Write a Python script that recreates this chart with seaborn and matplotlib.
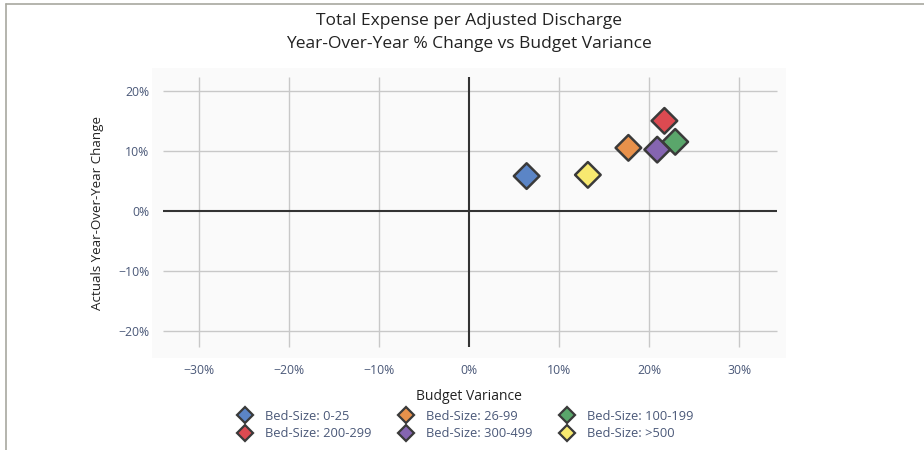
import numpy as np
import pandas as pd
import matplotlib
matplotlib.use("Agg")
import matplotlib.pyplot as plt
from matplotlib.lines import Line2D
from matplotlib.ticker import PercentFormatter
import seaborn as sns

# Data
categories = ["Bed-Size: 0-25", "Bed-Size: 26-99", "Bed-Size: 100-199",
              "Bed-Size: 200-299", "Bed-Size: 300-499", "Bed-Size: >500"]
budget_variance = [6.4, 17.7, 22.9, 21.7, 20.9, 13.2]
yoy_change = [5.8, 10.5, 11.5, 15.0, 10.2, 6.0]
colors = ["#5b85c6", "#e8914b", "#5aa66b", "#dc4a51", "#8565b1", "#f7e970"]
x_ticks = [-30, -20, -10, 0, 10, 20, 30]
y_ticks = [-20, -10, 0, 10, 20]

TICK_COLOR = "#4a5878"
EDGE = "#3a3a3a"

df = pd.DataFrame({"cat": categories, "x": budget_variance, "y": yoy_change})

sns.set_style("white")
plt.rcParams["font.family"] = ["Open Sans", "DejaVu Sans"]

fig = plt.figure(figsize=(9.24, 4.5), dpi=100)
ax = fig.add_axes([152 / 924, 1 - 358 / 450, 634 / 924, 290 / 450])
ax.set_facecolor("#fafafa")
for s in ax.spines.values():
    s.set_visible(False)

ax.set_xlim(-35.2, 35.2)
ax.set_ylim(-24.5, 23.8)

# grid lines (limited extent like the reference)
gx0, gx1 = -34.0, 34.2
gy0, gy1 = -22.7, 22.3
for t in x_ticks:
    if t != 0:
        ax.vlines(t, gy0, gy1, color="#c8c8c8", lw=1, zorder=1)
for t in y_ticks:
    if t != 0:
        ax.hlines(t, gx0, gx1, color="#c8c8c8", lw=1, zorder=1)
ax.hlines(0, gx0, gx1, color="#333333", lw=1.5, zorder=2)
ax.vlines(0, gy0, gy1, color="#333333", lw=1.5, zorder=2)

sns.scatterplot(data=df, x="x", y="y", hue="cat", palette=colors, marker="D",
                s=170, edgecolor=EDGE, linewidth=1.8, legend=False, ax=ax, zorder=3)

ax.set_xticks(x_ticks)
ax.set_yticks(y_ticks)
ax.xaxis.set_major_formatter(PercentFormatter(decimals=0))
ax.yaxis.set_major_formatter(PercentFormatter(decimals=0))
ax.tick_params(axis="both", length=0, labelsize=8.8, labelcolor=TICK_COLOR)
ax.tick_params(axis="x", pad=4)
ax.tick_params(axis="y", pad=2)

ax.set_xlabel("Budget Variance", fontsize=10, color="#222222", labelpad=9)
ax.set_ylabel("Actuals Year-Over-Year Change", fontsize=9.6, color="#222222", labelpad=10)

fig.text(469 / 924, 1 - 21 / 450, "Total Expense per Adjusted Discharge",
         ha="center", va="center", fontsize=12.5, color="#222222")
fig.text(469 / 924, 1 - 44 / 450, "Year-Over-Year % Change vs Budget Variance",
         ha="center", va="center", fontsize=12.5, color="#222222")

# legend, row-major order as in the reference
handles = [Line2D([], [], marker="D", linestyle="", markersize=8, markerfacecolor=c,
                  markeredgecolor=EDGE, markeredgewidth=1.6, label=l)
           for c, l in zip(colors, categories)]
order = [0, 3, 1, 4, 2, 5]
leg = fig.legend([handles[i] for i in order], [categories[i] for i in order],
                 loc="center", bbox_to_anchor=(465 / 924, 1 - 425 / 450), ncol=3,
                 frameon=False, fontsize=9.3, columnspacing=2.07, handletextpad=0.95,
                 labelspacing=0.32, handlelength=1.2)
for t in leg.get_texts():
    t.set_color(TICK_COLOR)

# outer frame lines (top and left)
fig.add_artist(Line2D([6 / 924, 6 / 924], [0, 1 - 4 / 450], transform=fig.transFigure,
                      color="#a8a8a0", lw=1.2))
fig.add_artist(Line2D([6 / 924, 1], [1 - 4 / 450, 1 - 4 / 450], transform=fig.transFigure,
                      color="#a8a8a0", lw=1.2))

fig.savefig("out.png", dpi=100)
